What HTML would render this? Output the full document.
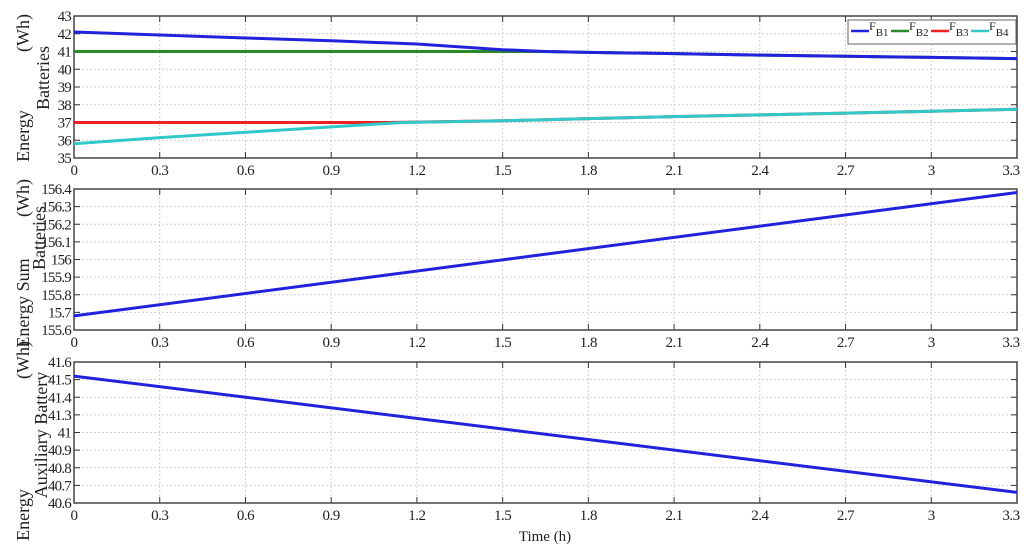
<!DOCTYPE html>
<html><head><meta charset="utf-8"><style>
body{margin:0;background:#fff}
svg text{font-family:"Liberation Serif",serif;}
</style></head><body>
<svg id="c" width="1024" height="549" xmlns="http://www.w3.org/2000/svg"></svg>
<script>
const xTicks=[0,0.3,0.6,0.9,1.2,1.5,1.8,2.1,2.4,2.7,3,3.3];
const xTickLabels=["0","0.3","0.6","0.9","1.2","1.5","1.8","2.1","2.4","2.7","3","3.3"];
const timePts=[0,0.3,0.6,0.9,1.2,1.5,1.65,1.8,2.1,2.4,2.7,3,3.3];
const eB1=[42.1,41.93,41.76,41.6,41.42,41.1,41.0,40.95,40.88,40.8,40.73,40.67,40.6];
const eB2=[41,41,41,41,41,41,41.0,40.95,40.88,40.8,40.73,40.67,40.6];
const eB3=[37,37,37,37,37,37.1,37.15,37.22,37.33,37.43,37.53,37.63,37.75];
const eB3Time=[0,0.3,0.6,0.9,1.1,1.5,1.65,1.8,2.1,2.4,2.7,3,3.3];
const eB4=[35.8,36.15,36.45,36.75,37.0,37.1,37.15,37.22,37.33,37.43,37.53,37.63,37.75];
const eB4Time=[0,0.3,0.6,0.9,1.15,1.5,1.65,1.8,2.1,2.4,2.7,3,3.3];
const topTicks=[35,36,37,38,39,40,41,42,43];
const topTickLabels=["35","36","37","38","39","40","41","42","43"];
const sumTime=[0,3.3];
const eSum=[155.68,156.38];
const midTicks=[155.6,155.7,155.8,155.9,156,156.1,156.2,156.3,156.4];
const midTickLabels=["155.6","15.7","155.8","155.9","156","156.1","156.2","156.3","156.4"];
const auxTime=[0,3.3];
const eAux=[41.32,40.66];
const botTicks=[40.6,40.7,40.8,40.9,41.0,41.1,41.2,41.3,41.4];
const botTickLabels=["40.6","40.7","40.8","40.9","41","41.3","41.4","41.5","41.6"];

const svg=document.getElementById('c');
const NS='http://www.w3.org/2000/svg';
function mk(t,a,p){const e=document.createElementNS(NS,t);for(const k in a)e.setAttribute(k,a[k]);(p||svg).appendChild(e);return e;}
const X0=74,X1=1017;
const xs=v=>X0+(v/3.3)*(X1-X0);

function panel(name,top,bot,ymin,ymax,ticks,labels){
  const ys=v=>bot-(v-ymin)/(ymax-ymin)*(bot-top);
  const g=mk('g',{});
  
  
  mk('rect',{x:X0,y:top,width:X1-X0,height:bot-top,fill:'#fff'},g);
  ticks.forEach((t,i)=>{
    const y=ys(t);
    const gl=mk('line',{x1:X0,x2:X1,y1:y,y2:y,stroke:'#d0d0d0','stroke-dasharray':'2,2'},g);
    
    
    mk('line',{x1:X0,x2:X0+6,y1:y,y2:y,stroke:'#333'},g);
    mk('line',{x1:X1,x2:X1-6,y1:y,y2:y,stroke:'#333'},g);
    const tx=mk('text',{x:X0-3,y:y+5,'text-anchor':'end','font-size':15,fill:'#222','letter-spacing':'-0.8'},g);
    tx.textContent=labels[i];
    
    
  });
  xTicks.forEach((t,i)=>{
    const x=xs(t);
    if(i>0&&i<xTicks.length-1){
      mk('line',{x1:x,x2:x,y1:top,y2:bot,stroke:'#d0d0d0','stroke-dasharray':'2,2'},g);
    }
    mk('line',{x1:x,x2:x,y1:bot,y2:bot-6,stroke:'#333'},g);
    mk('line',{x1:x,x2:x,y1:top,y2:top+6,stroke:'#333'},g);
    const tx=mk('text',{x:i===xTicks.length-1?x-6:x,y:bot+17,'text-anchor':'middle','font-size':15,fill:'#222','letter-spacing':'-0.5'},g);
    tx.textContent=xTickLabels[i];
    
    
  });
  mk('rect',{x:X0,y:top,width:X1-X0,height:bot-top,fill:'none',stroke:'#444','stroke-width':1.5},g);
  return ys;
}
function series(name,ts,vs,ys,color){
  const d=ts.map((t,i)=>(i?'L':'M')+xs(t).toFixed(1)+','+ys(vs[i]).toFixed(1)).join(' ');
  const p=mk('path',{d:d,fill:'none',stroke:color,'stroke-width':3});
  
  
}
function ylabel(lines,cx,cy,name){
  const t=mk('text',{transform:`translate(${cx},${cy}) rotate(-90)`,'text-anchor':'middle','font-size':18,fill:'#222'});
  
  
  lines.forEach((l)=>{const s=mk('tspan',{x:l[1],y:l[2]},t);s.textContent=l[0];});
}

const ys1=panel('batteries-energy-panel',16,158,35,43,topTicks,topTickLabels);
series('line-fb2',timePts,eB2,ys1,'#2a8a2a');
series('line-fb1',timePts,eB1,ys1,'#2222dd');
series('line-fb3',eB3Time,eB3,ys1,'#ee2222');
series('line-fb4',eB4Time,eB4,ys1,'#30c8c8');
const ys2=panel('energy-sum-panel',189,330,155.6,156.4,midTicks,midTickLabels);
series('line-energy-sum',sumTime,eSum,ys2,'#2222dd');
const ys3=panel('auxiliary-battery-panel',362,503,40.6,41.4,botTicks,botTickLabels);
series('line-aux-energy',auxTime,eAux,ys3,'#2222dd');

ylabel([["(Wh)",55,0],["Batteries",10,20],["Energy",-48,0]],29,88,'y-axis-title-top');
ylabel([["(Wh)",60,0],["Batteries",20,16],["Energy Sum",-45,0]],29,258,'y-axis-title-middle');
ylabel([["(Wh)",80,0],["Auxiliary Battery",5,18],["Energy",-75,0]],29,440,'y-axis-title-bottom');

const xt=mk('text',{x:545,y:541,'text-anchor':'middle','font-size':15,fill:'#222','font-family':'Liberation Sans, sans-serif'});
xt.textContent='Time (h)';



const lg=mk('g',{});


mk('rect',{x:848,y:20,width:168,height:24,fill:'#fff',stroke:'#666'},lg);
const legNames=[["B1",'#2222dd'],["B2",'#2a8a2a'],["B3",'#ee2222'],["B4",'#30c8c8']];
legNames.forEach((n,i)=>{
  const x=851+i*40;
  const e=mk('g',{},lg);
  
  
  mk('line',{x1:x,x2:x+18,y1:31,y2:31,stroke:n[1],'stroke-width':2.5},e);
  const t=mk('text',{x:x+18,y:30,'font-size':12,fill:'#222','font-family':'Liberation Sans, sans-serif'},e);
  t.textContent='F';
  const s=mk('tspan',{dy:6,'font-size':11},t);s.textContent=n[0];
});
</script>
</body></html>
